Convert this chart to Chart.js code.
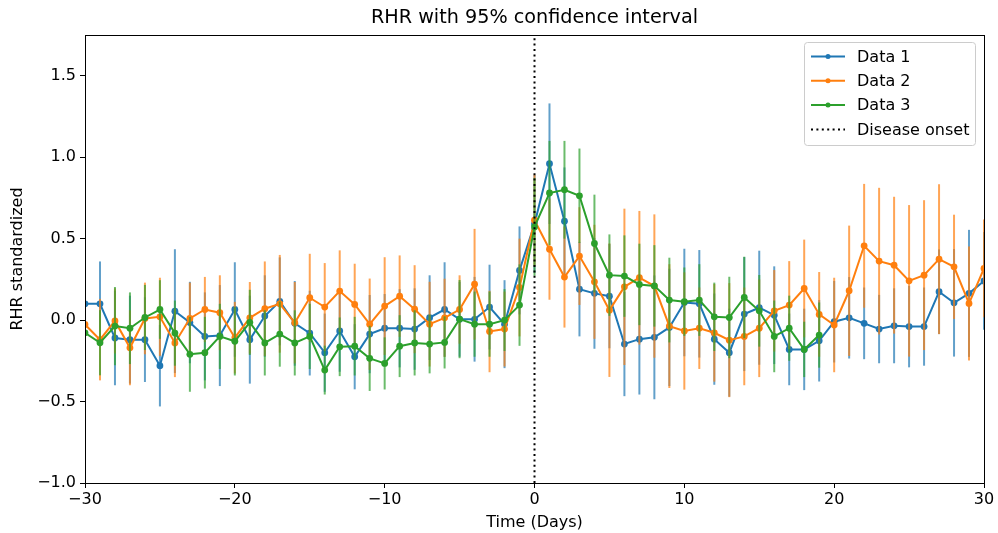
<!DOCTYPE html>
<html>
<head>
<meta charset="utf-8">
<script src="https://cdn.jsdelivr.net/npm/chart.js@4/dist/chart.umd.min.js"></script>
<style>
  body { margin: 0; background: #fff; }
  #wrap { width: 998px; height: 533px; }
</style>
</head>
<body>
<div id="wrap"><canvas id="myChart"></canvas></div>
<script>
// days relative to disease onset
const days = [-30, -29, -28, -27, -26, -25, -24, -23, -22, -21, -20, -19, -18, -17, -16, -15, -14, -13, -12, -11,
  -10, -9, -8, -7, -6, -5, -4, -3, -2, -1, 0, 1, 2, 3, 4, 5, 6, 7, 8, 9,
  10, 11, 12, 13, 14, 15, 16, 17, 18, 19, 20, 21, 22, 23, 24, 25, 26, 27, 28, 29, 30];
const days3 = days.slice(0, 50); // Data 3 stops at day 19

const data1 = [0.10, 0.10, -0.11, -0.12, -0.12, -0.28, 0.055, -0.015, -0.10, -0.095,
  0.065, -0.12, 0.025, 0.115, -0.02, -0.08, -0.20, -0.067, -0.225, -0.086,
  -0.05, -0.05, -0.055, 0.015, 0.065, 0.005, 0.005, 0.08, -0.025, 0.305,
  0.59, 0.96, 0.607, 0.19, 0.164, 0.147, -0.147, -0.117, -0.106, -0.045,
  0.108, 0.10, -0.117, -0.20, 0.037, 0.076, 0.03, -0.18, -0.18, -0.127,
  -0.01, 0.014, -0.02, -0.055, -0.035, -0.04, -0.04, 0.174, 0.106, 0.164, 0.24];
const err1 = [0.25, 0.26, 0.29, 0.27, 0.26, 0.25, 0.38, 0.25, 0.27, 0.31,
  0.29, 0.27, 0.25, 0.27, 0.26, 0.26, 0.24, 0.25, 0.20, 0.24,
  0.21, 0.24, 0.25, 0.26, 0.29, 0.23, 0.26, 0.26, 0.27, 0.27,
  0.30, 0.37, 0.33, 0.29, 0.34, 0.32, 0.32, 0.34, 0.38, 0.36,
  0.33, 0.33, 0.28, 0.27, 0.35, 0.35, 0.30, 0.22, 0.25, 0.25,
  0.25, 0.25, 0.22, 0.21, 0.23, 0.25, 0.24, 0.26, 0.33, 0.39, 0.30];

const data2 = [-0.027, -0.12, -0.005, -0.17, 0.01, 0.02, -0.14, 0.01, 0.065, 0.045,
  -0.108, 0.014, 0.07, 0.10, -0.016, 0.137, 0.08, 0.178, 0.096, -0.025,
  0.086, 0.147, 0.067, -0.025, 0.014, 0.065, 0.22, -0.07, -0.055, 0.20,
  0.613, 0.435, 0.264, 0.393, 0.235, 0.061, 0.204, 0.26, 0.209, -0.037,
  -0.067, -0.05, -0.078, -0.123, -0.10, -0.05, 0.057, 0.092, 0.194, 0.035,
  -0.03, 0.18, 0.456, 0.362, 0.337, 0.241, 0.276, 0.374, 0.327, 0.102, 0.317];
const err2 = [0.21, 0.25, 0.20, 0.23, 0.22, 0.24, 0.21, 0.22, 0.20, 0.23,
  0.22, 0.22, 0.29, 0.30, 0.25, 0.27, 0.27, 0.25, 0.25, 0.28,
  0.30, 0.25, 0.27, 0.26, 0.24, 0.21, 0.34, 0.25, 0.23, 0.30,
  0.28, 0.31, 0.31, 0.30, 0.35, 0.41, 0.48, 0.41, 0.44, 0.38,
  0.36, 0.25, 0.30, 0.35, 0.30, 0.30, 0.25, 0.27, 0.30, 0.26,
  0.29, 0.40, 0.38, 0.45, 0.42, 0.465, 0.46, 0.46, 0.32, 0.35, 0.30];

const data3 = [-0.078, -0.139, -0.037, -0.05, 0.016, 0.065, -0.08, -0.21, -0.20, -0.10,
  -0.13, -0.014, -0.14, -0.086, -0.14, -0.10, -0.307, -0.164, -0.16, -0.235,
  -0.266, -0.16, -0.14, -0.147, -0.137, 0.006, -0.025, -0.025, 0.0, 0.092,
  0.572, 0.78, 0.80, 0.763, 0.47, 0.276, 0.27, 0.219, 0.21, 0.123,
  0.113, 0.123, 0.02, 0.016, 0.139, 0.057, -0.10, -0.05, -0.18, -0.092];
const err3 = [0.22, 0.20, 0.24, 0.22, 0.20, 0.18, 0.20, 0.23, 0.22, 0.20,
  0.21, 0.20, 0.20, 0.20, 0.20, 0.20, 0.15, 0.18, 0.18, 0.20,
  0.16, 0.19, 0.20, 0.18, 0.16, 0.24, 0.20, 0.20, 0.19, 0.25,
  0.30, 0.32, 0.30, 0.29, 0.30, 0.25, 0.25, 0.25, 0.25, 0.26,
  0.21, 0.22, 0.21, 0.25, 0.25, 0.22, 0.22, 0.20, 0.17, 0.20];

const xTicks = [-30, -20, -10, 0, 10, 20, 30];
const yTicks = [-1.0, -0.5, 0.0, 0.5, 1.0, 1.5];
const onsetDay = 0;
const chartTitle = 'RHR with 95% confidence interval';

const colors = ['#1f77b4', '#ff7f0e', '#2ca02c'];
const barColors = ['rgba(31,119,180,0.7)', 'rgba(255,127,14,0.7)', 'rgba(44,160,44,0.7)'];

Chart.defaults.font.family = '"DejaVu Sans", sans-serif';
Chart.defaults.color = '#000';

function pts(xs, ys) {
  return xs.map((x, i) => ({ x: x, y: ys[i] }));
}
function minus(s) {
  return String(s).replace('-', '\u2212');
}

function series(label, xs, ys, errs, idx) {
  return {
    label: label,
    data: pts(xs, ys),
    errors: errs,
    borderColor: colors[idx],
    backgroundColor: colors[idx],
    barColor: barColors[idx],
    borderWidth: 2,
    pointRadius: 3.4,
    pointHoverRadius: 3.4,
    pointBorderWidth: 0,
    tension: 0,
    order: 3 - idx,
  };
}

// error bars drawn right before each series' line
const errorBars = {
  id: 'errorBars',
  beforeDatasetDraw(chart, args) {
    const ds = chart.data.datasets[args.index];
    if (!ds.errors) return;
    const x = chart.scales.x, y = chart.scales.y, a = chart.chartArea;
    const ctx = chart.ctx;
    ctx.save();
    ctx.beginPath();
    ctx.rect(a.left, a.top, a.right - a.left, a.bottom - a.top);
    ctx.clip();
    ctx.strokeStyle = ds.barColor;
    ctx.lineWidth = 2;
    ds.data.forEach((p, i) => {
      const px = x.getPixelForValue(p.x);
      ctx.beginPath();
      ctx.moveTo(px, y.getPixelForValue(p.y - ds.errors[i]));
      ctx.lineTo(px, y.getPixelForValue(p.y + ds.errors[i]));
      ctx.stroke();
    });
    ctx.restore();
  }
};

// title over the plot area, full box around plot, legend in upper right
const frameAndLegend = {
  id: 'frameAndLegend',
  afterDraw(chart) {
    const ctx = chart.ctx, a = chart.chartArea;
    ctx.save();
    ctx.fillStyle = '#000';
    ctx.font = '19.2px "DejaVu Sans", sans-serif';
    ctx.textAlign = 'center';
    ctx.textBaseline = 'middle';
    ctx.fillText(chartTitle, (a.left + a.right) / 2, 18);

    ctx.strokeStyle = '#000';
    ctx.lineWidth = 1;
    ctx.strokeRect(Math.round(a.left) + 0.5, Math.round(a.top) + 0.5,
      Math.round(a.right - a.left), Math.round(a.bottom - a.top));

    const bx = 804.5, by = 42.5, bw = 171, bh = 103;
    ctx.beginPath();
    ctx.roundRect(bx, by, bw, bh, 3);
    ctx.fillStyle = 'rgba(255,255,255,0.8)';
    ctx.fill();
    ctx.strokeStyle = '#cccccc';
    ctx.stroke();

    const items = chart.data.datasets;
    ctx.font = '16px "DejaVu Sans", sans-serif';
    ctx.textAlign = 'left';
    items.forEach((ds, i) => {
      const yy = 56.5 + i * 24.3;
      ctx.strokeStyle = ds.borderColor;
      ctx.lineWidth = 2;
      ctx.setLineDash(ds.borderDash || []);
      ctx.beginPath();
      ctx.moveTo(811, yy);
      ctx.lineTo(845, yy);
      ctx.stroke();
      ctx.setLineDash([]);
      if (!ds.borderDash) {
        ctx.fillStyle = ds.borderColor;
        ctx.beginPath();
        ctx.arc(828, yy, 2.5, 0, Math.PI * 2);
        ctx.fill();
      }
      ctx.fillStyle = '#000';
      ctx.fillText(ds.label, 857, yy + 1);
    });
    ctx.restore();
  }
};

const ctx = document.getElementById('myChart').getContext('2d');
const chart = new Chart(ctx, {
  type: 'line',
  data: {
    datasets: [
      series('Data 1', days, data1, err1, 0),
      series('Data 2', days, data2, err2, 1),
      series('Data 3', days3, data3, err3, 2),
      {
        label: 'Disease onset',
        data: [{ x: onsetDay, y: -1 }, { x: onsetDay, y: 1.75 }],
        borderColor: '#000',
        borderWidth: 2,
        borderDash: [2, 3.4],
        pointRadius: 0,
        order: 0,
      },
    ],
  },
  options: {
    responsive: true,
    maintainAspectRatio: false,
    animation: false,
    layout: { padding: { left: 0, right: 14, top: 35, bottom: 0 } },
    plugins: {
      legend: { display: false },
      tooltip: { enabled: false },
      title: { display: false },
    },
    scales: {
      x: {
        type: 'linear',
        min: -30,
        max: 30,
        afterBuildTicks: s => { s.ticks = xTicks.map(v => ({ value: v })); },
        afterFit: s => { s.height = 50; },
        grid: { drawOnChartArea: false, color: '#000', tickLength: 5, tickWidth: 1 },
        border: { color: '#000', width: 1 },
        ticks: { color: '#000', font: { size: 16 }, padding: 2, maxRotation: 0, callback: v => minus(v) },
        title: { display: true, text: 'Time (Days)', color: '#000', font: { size: 16 }, padding: { top: 0, bottom: 1 } },
      },
      y: {
        min: -1,
        max: 1.75,
        afterBuildTicks: s => { s.ticks = yTicks.map(v => ({ value: v })); },
        afterFit: s => { s.width = 85; },
        grid: { drawOnChartArea: false, color: '#000', tickLength: 5, tickWidth: 1 },
        border: { color: '#000', width: 1 },
        ticks: { color: '#000', font: { size: 16 }, padding: 4, callback: v => minus(Number(v).toFixed(1)) },
        title: { display: true, text: 'RHR standardized', color: '#000', font: { size: 16 }, padding: { top: 8, bottom: 0 } },
      },
    },
  },
  plugins: [errorBars, frameAndLegend],
});
</script>
</body>
</html>
